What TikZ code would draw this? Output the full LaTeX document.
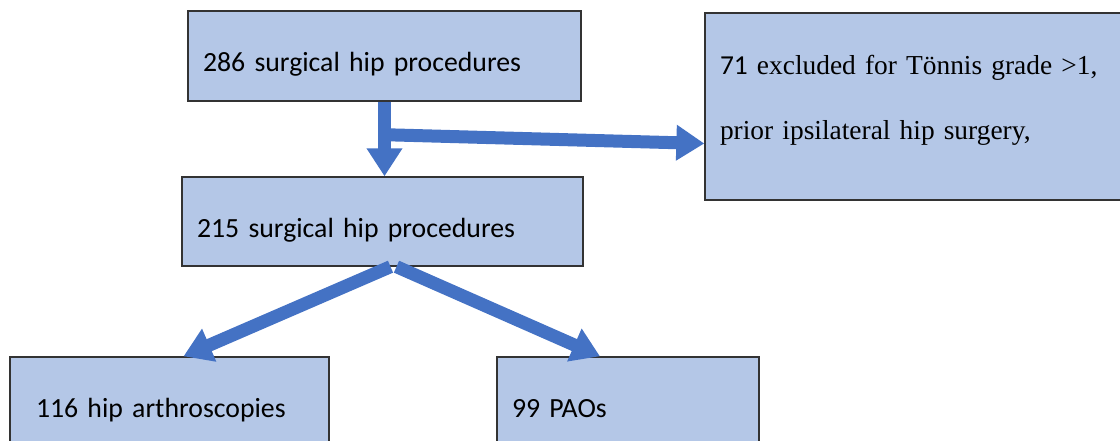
\documentclass[tikz,border=0pt]{standalone}
\usepackage{fontspec}
\setmainfont{Carlito}
\newfontfamily\timesfont{Liberation Serif}
\newfontfamily\calibrifont{Carlito}
\usetikzlibrary{arrows.meta,calc}
\definecolor{boxblue}{HTML}{B4C7E7}
\definecolor{flowblue}{HTML}{4472C4}

\begin{document}
\begin{tikzpicture}[x=0.02cm, y=-0.02cm,
    box/.style={rectangle, draw=black!80, line width=0.8pt, fill=boxblue, align=left,
        inner xsep=0.3cm, inner ysep=0pt, text height=18pt, text depth=0pt,
        font=\fontsize{15.8}{19}\selectfont},
    flow/.style={draw=flowblue, line width=0.26cm, -{Triangle[length=0.56cm, width=0.68cm]}}]
    \clip (0,0) rectangle (1120,440);

    % Boxes
    \node[box, text width=7.26cm, minimum height=1.8cm] (b1) at (384.5,56) {286 surgical hip procedures};
    \node[box, text width=7.42cm, minimum height=1.78cm] (b2) at (382.5,221.5) {215 surgical hip procedures};
    \node[box, text width=7.8cm, minimum height=3.74cm, text height=, text depth=,
        font=\fontsize{15.6}{19}\timesfont] (b3) at (915,106.5)
        {{\calibrifont 71} excluded for Tönnis grade >1,\\[18pt] prior ipsilateral hip surgery,\\[-8.4pt]\mbox{}};
    \node[box, inner xsep=0.52cm, text width=5.34cm, minimum height=1.8cm] (b4) at (169.5,402) {116 hip arthroscopies};
    \node[box, text width=4.64cm, minimum height=1.8cm] (b5) at (628,402) {99 PAOs};

    % Flow arrows
    \coordinate (split) at ($(b1.south)+(0,33)$);
    \draw[flow] (b1.south) -- (b1.south |- b2.north);
    \draw[flow] (split) -- ($(b3.west)+(0,37)$);
    \draw[flow] ($(b2.south)+(8,0)$) -- ($(b4.north)+(14,0)$);
    \draw[flow] ($(b2.south)+(14,0)$) -- ($(b5.north)+(-28,0)$);
\end{tikzpicture}
\end{document}
